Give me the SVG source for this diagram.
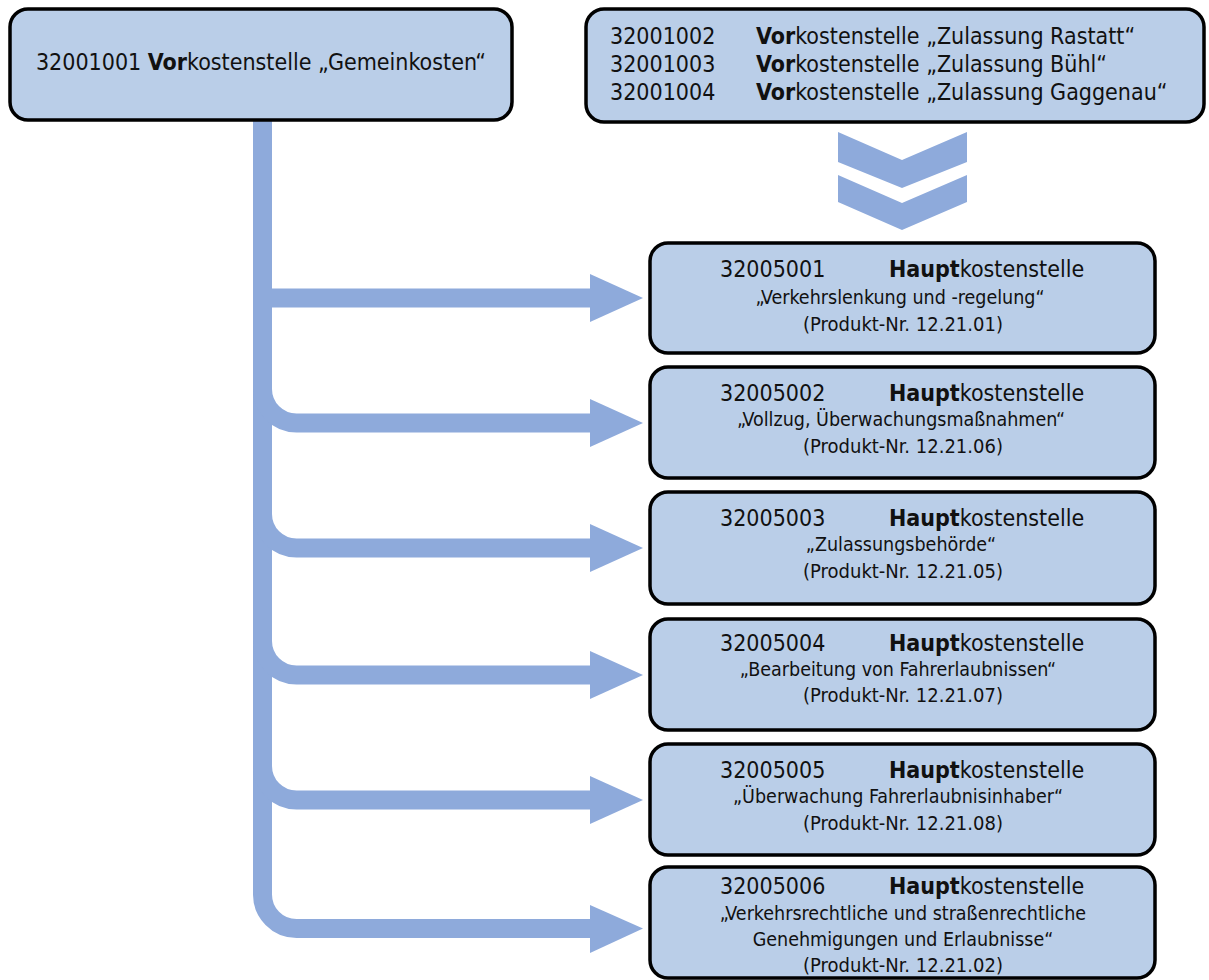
<svg xmlns="http://www.w3.org/2000/svg" width="1209" height="980" viewBox="0 0 1209 980">
<defs>
<style>
.box{fill:#BACEE8;stroke:#000;stroke-width:3.5}
.t{font-family:"DejaVu Sans Condensed","DejaVu Sans",sans-serif;font-size:23px;fill:#111}
.s{font-size:19.5px}
.s3{font-size:20px}
.b{font-weight:bold}
.c{text-anchor:middle}
.con{fill:none;stroke:#8EAADB;stroke-width:19}
.ah{fill:#8EAADB}
</style>
</defs>
<rect width="1209" height="980" fill="#fff"/>
<g id="connectors">
<path class="con" d="M262.5,118 V894 A34,34 0 0 0 296.5,928.5 H592"/>
<path class="con" d="M262.5,298 H592"/>
<path class="con" d="M262.5,330 V389 A34,34 0 0 0 296.5,423 H592"/>
<path class="con" d="M262.5,455 V514 A34,34 0 0 0 296.5,548 H592"/>
<path class="con" d="M262.5,580 V641 A34,34 0 0 0 296.5,675 H592"/>
<path class="con" d="M262.5,705 V766 A34,34 0 0 0 296.5,800 H592"/>
<polygon class="ah" points="590,274 643,298 590,322"/>
<polygon class="ah" points="590,399 643,423 590,447"/>
<polygon class="ah" points="590,524 643,548 590,572"/>
<polygon class="ah" points="590,651 643,675 590,699"/>
<polygon class="ah" points="590,776 643,800 590,824"/>
<polygon class="ah" points="590,905 643,928.5 590,953"/>
<polygon class="ah" points="838,132 902,160 967,132 967,162 902,188 838,162"/>
<polygon class="ah" points="838,175 902,203 967,175 967,202 902,230 838,202"/>
</g>
<g id="vor1">
<rect class="box" x="10" y="9" width="502" height="111" rx="18"/>
<text class="t c" x="261" y="70">32001001 <tspan class="b">Vor</tspan>kostenstelle „Gemeinkosten“</text>
</g>
<g id="vor2">
<rect class="box" x="586" y="9" width="618" height="113" rx="18"/>
<text class="t" x="610" y="44">32001002</text>
<text class="t" x="756" y="44"><tspan class="b">Vor</tspan>kostenstelle „Zulassung Rastatt“</text>
<text class="t" x="610" y="72">32001003</text>
<text class="t" x="756" y="72"><tspan class="b">Vor</tspan>kostenstelle „Zulassung Bühl“</text>
<text class="t" x="610" y="100">32001004</text>
<text class="t" x="756" y="100"><tspan class="b">Vor</tspan>kostenstelle „Zulassung Gaggenau“</text>
</g>
<g id="haupt1">
<rect class="box" x="650" y="243" width="505" height="110" rx="18"/>
<text class="t" x="720" y="277">32005001</text>
<text class="t" x="889" y="277"><tspan class="b">Haupt</tspan>kostenstelle</text>
<text class="t s c" x="900" y="304">„Verkehrslenkung und -regelung“</text>
<text class="t s3 c" x="903" y="331">(Produkt-Nr. 12.21.01)</text>
</g>
<g id="haupt2">
<rect class="box" x="650" y="367" width="505" height="111" rx="18"/>
<text class="t" x="720" y="401">32005002</text>
<text class="t" x="889" y="401"><tspan class="b">Haupt</tspan>kostenstelle</text>
<text class="t s c" x="901" y="426">„Vollzug, Überwachungsmaßnahmen“</text>
<text class="t s3 c" x="903" y="453">(Produkt-Nr. 12.21.06)</text>
</g>
<g id="haupt3">
<rect class="box" x="650" y="492" width="505" height="112" rx="18"/>
<text class="t" x="720" y="526">32005003</text>
<text class="t" x="889" y="526"><tspan class="b">Haupt</tspan>kostenstelle</text>
<text class="t s c" x="901" y="551">„Zulassungsbehörde“</text>
<text class="t s3 c" x="903" y="578">(Produkt-Nr. 12.21.05)</text>
</g>
<g id="haupt4">
<rect class="box" x="650" y="619" width="505" height="111" rx="18"/>
<text class="t" x="720" y="651">32005004</text>
<text class="t" x="889" y="651"><tspan class="b">Haupt</tspan>kostenstelle</text>
<text class="t s c" x="898" y="676">„Bearbeitung von Fahrerlaubnissen“</text>
<text class="t s3 c" x="903" y="702">(Produkt-Nr. 12.21.07)</text>
</g>
<g id="haupt5">
<rect class="box" x="650" y="744" width="505" height="111" rx="18"/>
<text class="t" x="720" y="778">32005005</text>
<text class="t" x="889" y="778"><tspan class="b">Haupt</tspan>kostenstelle</text>
<text class="t s c" x="898" y="803">„Überwachung Fahrerlaubnisinhaber“</text>
<text class="t s3 c" x="903" y="830">(Produkt-Nr. 12.21.08)</text>
</g>
<g id="haupt6">
<rect class="box" x="650" y="867" width="505" height="111" rx="18"/>
<text class="t" x="720" y="894">32005006</text>
<text class="t" x="889" y="894"><tspan class="b">Haupt</tspan>kostenstelle</text>
<text class="t s c" x="903" y="920">„Verkehrsrechtliche und straßenrechtliche</text>
<text class="t s c" x="903" y="946">Genehmigungen und Erlaubnisse“</text>
<text class="t s3 c" x="903" y="972">(Produkt-Nr. 12.21.02)</text>
</g>
</svg>
